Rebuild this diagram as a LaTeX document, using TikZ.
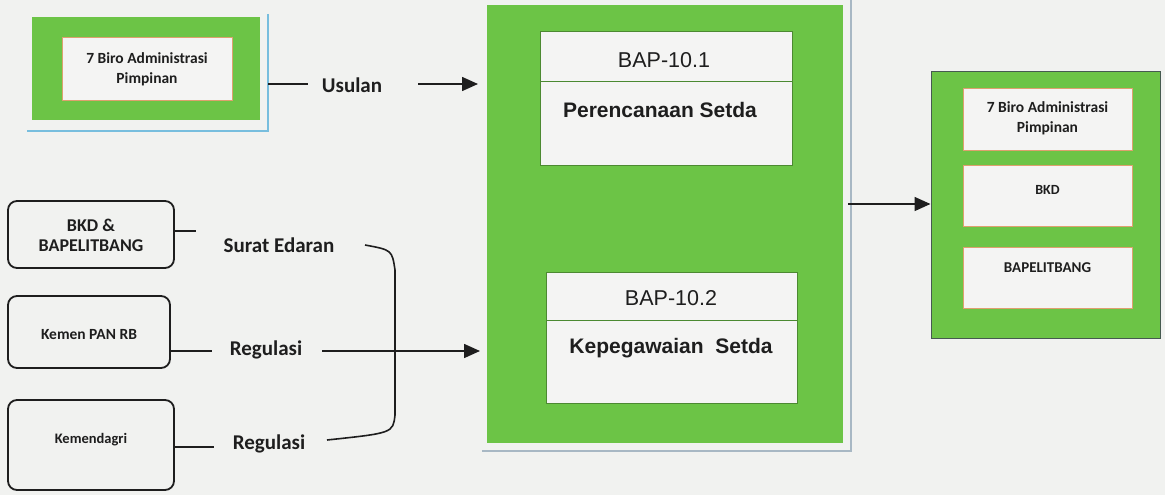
\documentclass[tikz,border=0pt]{standalone}
\usepackage{fontspec}
\setmainfont{Liberation Sans}
\newfontfamily\carlito{Carlito}
\usetikzlibrary{arrows.meta}

\definecolor{boxgreen}{RGB}{108,196,70}
\definecolor{paper}{RGB}{241,242,240}
\definecolor{inbox}{RGB}{244,244,243}
\definecolor{inedge}{RGB}{222,160,110}
\definecolor{shadowblue}{RGB}{120,190,222}
\definecolor{shadowgrey}{RGB}{168,184,196}
\definecolor{ink}{RGB}{30,30,30}

\begin{document}
\begin{tikzpicture}
  [x=1pt,y=-1pt,
   greenbox/.style={rectangle,fill=boxgreen,inner sep=0pt},
   whitebox/.style={rectangle,fill=inbox,draw=inedge,line width=1pt,inner sep=0pt},
   bapbox/.style={rectangle,fill=inbox,draw=boxgreen!70!black,line width=1pt,inner sep=0pt},
   srcbox/.style={rectangle,rounded corners=9pt,draw=ink,line width=1.8pt,inner sep=0pt},
   lbl/.style={font=\carlito\bfseries\fontsize{21}{23}\selectfont,text=ink},
   small/.style={font=\carlito\bfseries\fontsize{15.5}{20}\selectfont,align=center,text=ink},
   bap/.style={font=\fontsize{21.5}{24}\selectfont,text=ink},
   con/.style={draw=ink,line width=1.6pt},
   tip/.style={-{Triangle[length=16pt,width=14pt]}}]

  % paper
  \fill[paper] (0,0) rectangle (1165,495);
  \useasboundingbox (0,0) rectangle (1165,495);

  % proposing bureau (top left)
  \draw[shadowblue,line width=2pt] (268,14) -- (268,131) -- (27,131);
  \node[greenbox,minimum width=228pt,minimum height=103pt] (biro) at (146,68.5) {};
  \node[whitebox,minimum width=170pt,minimum height=62pt] (biroin) at (147,69) {};
  \node[small] (birotxt) at (147,69) {7 Biro Administrasi\\Pimpinan};

  % main block with the two units
  \draw[shadowgrey,line width=1.5pt] (851,0) -- (851,451) -- (482,451);
  \node[greenbox,minimum width=356pt,minimum height=438pt] (setda) at (665,224) {};

  \node[bapbox,minimum width=252pt,minimum height=133pt] (bap1) at (666,98.5) {};
  \draw[boxgreen!70!black,line width=1pt] (540,82) -- (792,82);
  \node[bap] (bap1no) at (664,60) {BAP-10.1};
  \node[bap,font=\bfseries\fontsize{21}{24}\selectfont] (bap1txt) at (660,110) {Perencanaan Setda};

  \node[bapbox,minimum width=251pt,minimum height=131pt] (bap2) at (671.5,337.5) {};
  \draw[boxgreen!70!black,line width=1pt] (546,320) -- (797,320);
  \node[bap] (bap2no) at (671,298) {BAP-10.2};
  \node[bap,font=\bfseries\fontsize{21}{24}\selectfont] (bap2txt) at (671,348) {Kepegawaian\ \ Setda};

  % receivers (right)
  \node[greenbox,draw={rgb,255:red,70;green,90;blue,80},line width=1pt,
        minimum width=229pt,minimum height=266pt] (recv) at (1045.5,205) {};
  \node[whitebox,minimum width=169pt,minimum height=61pt] (recv1) at (1047.5,119.5) {};
  \node[small] (recv1txt) at (1047.5,118) {7 Biro Administrasi\\Pimpinan};
  \node[whitebox,minimum width=169pt,minimum height=61pt] (recv2) at (1047.5,195.5) {};
  \node[small,font=\carlito\bfseries\fontsize{14}{18}\selectfont] (recv2txt) at (1047.5,190) {BKD};
  \node[whitebox,minimum width=169pt,minimum height=61pt] (recv3) at (1047.5,277.5) {};
  \node[small,font=\carlito\bfseries\fontsize{15}{18}\selectfont] (recv3txt) at (1047.5,268) {BAPELITBANG};

  % sources (bottom left)
  \node[srcbox,minimum width=166pt,minimum height=67pt] (bkd) at (91,234.5) {};
  \node[small,font=\carlito\bfseries\fontsize{18}{20}\selectfont] (bkdtxt) at (91,235) {BKD \&\\BAPELITBANG};
  \node[srcbox,minimum width=162pt,minimum height=72pt] (panrb) at (89,332) {};
  \node[small,font=\carlito\bfseries\fontsize{15.5}{18}\selectfont] (panrbtxt) at (89,335) {Kemen PAN RB};
  \node[srcbox,minimum width=166pt,minimum height=90pt] (kemdagri) at (91,445) {};
  \node[small,font=\carlito\bfseries\fontsize{14.5}{18}\selectfont] (kemdagritxt) at (91,440) {Kemendagri};

  % labels on the flows
  \node[lbl] (usulan) at (352,85) {Usulan};
  \node[lbl] (surat) at (279,245) {Surat Edaran};
  \node[lbl] (reg1) at (266,350) {Regulasi};
  \node[lbl] (reg2) at (269,444) {Regulasi};

  \coordinate (u1) at (308,84);
  \coordinate (u2) at (418,84);
  \coordinate (s1) at (196,231);
  \coordinate (r1) at (212,351);
  \coordinate (r1b) at (322,351);
  \coordinate (r2) at (214,447);
  \coordinate (b1) at (365,245);
  \coordinate (b2) at (327,440);
  \coordinate (out) at (848,204);

  % flows
  \draw[con] (268,84) -- (u1);
  \draw[con,tip] (u2) -- (478,84);
  \draw[con] (bkd.east |- s1) -- (s1);
  \draw[con] (panrb.east |- r1) -- (r1);
  \draw[con] (kemdagri.east |- r2) -- (r2);
  \draw[con] (b1) .. controls (392,250) .. (395,270) -- (395,415)
    .. controls (393,433) .. (b2);
  \draw[con,tip] (r1b) -- (480,351);
  \draw[con,tip] (out) -- (recv.west |- out);
\end{tikzpicture}
\end{document}
